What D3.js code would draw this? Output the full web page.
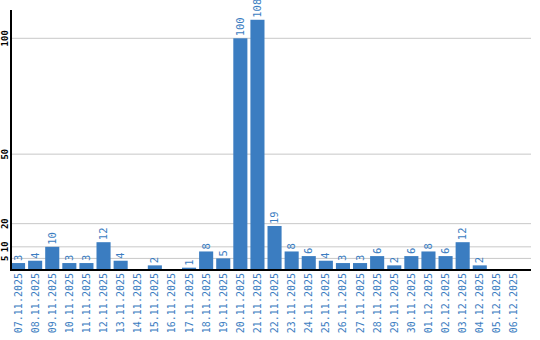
<!DOCTYPE html>
<html><head><meta charset="utf-8">
<script src="https://cdn.jsdelivr.net/npm/d3@7"></script>
<style>body{margin:0;background:#fff}svg{display:block}</style>
</head><body><svg id="c" width="540" height="340"></svg>
<script>
const categories = ["07.11.2025","08.11.2025","09.11.2025","10.11.2025","11.11.2025","12.11.2025","13.11.2025","14.11.2025","15.11.2025","16.11.2025","17.11.2025","18.11.2025","19.11.2025","20.11.2025","21.11.2025","22.11.2025","23.11.2025","24.11.2025","25.11.2025","26.11.2025","27.11.2025","28.11.2025","29.11.2025","30.11.2025","01.12.2025","02.12.2025","03.12.2025","04.12.2025","05.12.2025","06.12.2025"];
const values = [3,4,10,3,3,12,4,0,2,0,1,8,5,100,108,19,8,6,4,3,3,6,2,6,8,6,12,2,0,0];
const yTicks = [5,10,20,50,100];

const svg = d3.select("#c");
const blue = "#3b7dc1";
const x = d3.scaleBand().domain(categories).range([11, 521]).paddingInner(3/17).paddingOuter(0);
const y = d3.scaleLinear().domain([0, 100]).range([270, 38.3]);

// gridlines
svg.append("g").selectAll("line").data(yTicks).join("line")
  .attr("x1", 11).attr("x2", 531)
  .attr("y1", d => y(d)).attr("y2", d => y(d))
  .attr("stroke", "#c8c8c8").attr("stroke-width", 1);

// bars
svg.append("g").selectAll("rect").data(values.map((v,i)=>({c:categories[i],v}))).join("rect")
  .filter(d => d.v > 0)
  .attr("x", d => x(d.c)).attr("width", x.bandwidth())
  .attr("y", d => y(d.v)).attr("height", d => y(0) - y(d.v))
  .attr("fill", blue);

// value labels
svg.append("g").selectAll("text").data(values.map((v,i)=>({c:categories[i],v}))).join("text")
  .filter(d => d.v > 0)
  .attr("transform", d => `translate(${x(d.c) + x.bandwidth()/2 + 3.5},${y(d.v) - 2}) rotate(-90)`)
  .attr("text-anchor", "start")
  .attr("font-family", "DejaVu Sans Mono, monospace").attr("font-size", 10.5)
  .attr("fill", blue)
  .text(d => d.v);

// y axis
const yAxis = d3.axisLeft(y).tickValues(yTicks).tickSize(0).tickFormat(d3.format("d"));
const gy = svg.append("g").attr("transform", "translate(11,0)").call(yAxis);
gy.select(".domain").remove();
gy.selectAll("text")
  .attr("x", 0).attr("dy", 0).attr("y", 0)
  .attr("transform", d => `translate(-3,${y(d)}) rotate(-90)`)
  .attr("text-anchor", "middle")
  .attr("font-family", "DejaVu Sans Mono, monospace").attr("font-size", 9).attr("font-weight", "bold")
  .attr("fill", "#000");
gy.selectAll("text").each(function(){ d3.select(this).attr("transform", d3.select(this).attr("transform")); });
gy.selectAll(".tick").attr("transform", null);
svg.append("line").attr("x1", 11).attr("x2", 11).attr("y1", 10).attr("y2", 271)
  .attr("stroke", "#000").attr("stroke-width", 2);

// x axis
const xAxis = d3.axisBottom(x).tickSize(0);
const gx = svg.append("g").attr("transform", "translate(0,270)").call(xAxis);
gx.select(".domain").remove();
gx.selectAll("text")
  .attr("y", 0).attr("dy", 0).attr("x", 0)
  .attr("transform", "translate(3.5,3) rotate(-90)")
  .attr("text-anchor", "end")
  .attr("font-family", "DejaVu Sans Mono, monospace").attr("font-size", 10)
  .attr("fill", blue);
svg.append("line").attr("x1", 10).attr("x2", 531).attr("y1", 270).attr("y2", 270)
  .attr("stroke", "#000").attr("stroke-width", 2);
</script></body></html>
